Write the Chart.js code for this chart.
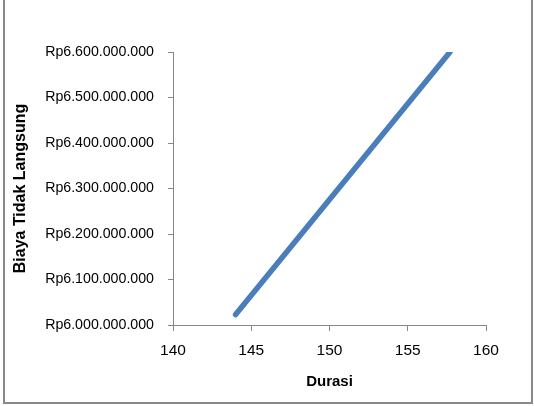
<!DOCTYPE html>
<html lang="id">
<head>
  <meta charset="UTF-8">
  <title>Biaya Tidak Langsung vs Durasi</title>
  <script src="https://cdn.jsdelivr.net/npm/chart.js"></script>
  <style>
    * {
      margin: 0;
      padding: 0;
    }

    body {
      background: #fff;
      overflow: hidden;
    }

    .frame {
      position: absolute;
      left: 3px;
      top: -10px;
      width: 530px;
      height: 414px;
      box-sizing: border-box;
      border: 2px solid #898989;
    }

    #costChart {
      position: absolute;
      left: 0;
      top: 0;
    }
  </style>
</head>
<body>
<div class="frame"></div>
<canvas id="costChart" width="534" height="406"></canvas>

<script>
  // data
  const durasi = [144, 157.7];
  const biaya = [6023000000, 6600000000];
  const xTicks = [140, 145, 150, 155, 160];
  const yTicks = [6000000000, 6100000000, 6200000000, 6300000000, 6400000000, 6500000000, 6600000000];

  const fontFamily = '"Liberation Sans", Arial, sans-serif';
  const axisGray = '#868686';

  // Rp6.600.000.000 style labels
  function rupiah(v) {
    return 'Rp' + Math.round(v).toString().replace(/\B(?=(\d{3})+(?!\d))/g, '.');
  }

  const points = durasi.map((d, i) => ({ x: d, y: biaya[i] }));

  const ctx = document.getElementById('costChart').getContext('2d');
  const chart = new Chart(ctx, {
    type: 'scatter',
    data: {
      datasets: [{
        label: 'Biaya Tidak Langsung',
        data: points,
        showLine: true,
        borderColor: '#4A7EBB',
        backgroundColor: '#4A7EBB',
        borderWidth: 5.5,
        borderCapStyle: 'round',
        pointRadius: 0,
        pointHoverRadius: 0,
        clip: 0
      }]
    },
    options: {
      responsive: false,
      animation: false,
      devicePixelRatio: 1,
      layout: {
        padding: { top: 52, right: 48, left: 4, bottom: 0 }
      },
      plugins: {
        legend: { display: false },
        tooltip: { enabled: false }
      },
      scales: {
        x: {
          type: 'linear',
          min: xTicks[0],
          max: xTicks[xTicks.length - 1],
          afterBuildTicks: (scale) => {
            scale.ticks = xTicks.map(v => ({ value: v }));
          },
          afterFit: (scale) => {
            scale.height = 81;
          },
          grid: {
            drawOnChartArea: false,
            drawTicks: true,
            tickLength: 6,
            color: axisGray
          },
          border: { display: true, color: axisGray, width: 1 },
          ticks: {
            padding: 10,
            color: '#000',
            font: { family: fontFamily, size: 15.5 }
          },
          title: {
            display: true,
            text: 'Durasi',
            color: '#000',
            padding: { top: 0, bottom: 15 },
            font: { family: fontFamily, size: 15, weight: 'bold' }
          }
        },
        y: {
          type: 'linear',
          min: yTicks[0],
          max: yTicks[yTicks.length - 1],
          afterBuildTicks: (scale) => {
            scale.ticks = yTicks.map(v => ({ value: v }));
          },
          afterFit: (scale) => {
            scale.width = 169;
          },
          grid: {
            drawOnChartArea: false,
            drawTicks: true,
            tickLength: 5,
            color: axisGray
          },
          border: { display: true, color: axisGray, width: 1 },
          ticks: {
            padding: 14,
            color: '#000',
            font: { family: fontFamily, size: 14.2 },
            callback: (v) => rupiah(v)
          },
          title: {
            display: true,
            text: 'Biaya Tidak Langsung',
            color: '#000',
            padding: { top: 7, bottom: 0 },
            font: { family: fontFamily, size: 16, weight: 'bold' }
          }
        }
      }
    }
  });
</script>
</body>
</html>
